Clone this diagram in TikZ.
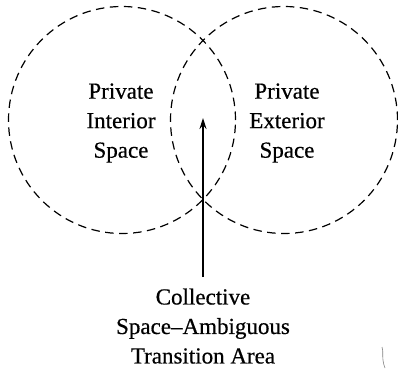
\documentclass[tikz,border=0pt]{standalone}
\usepackage{fontspec}
\setmainfont{Liberation Serif}
\newfontface\semibold{Liberation Serif}[FakeBold=0.5]
\usetikzlibrary{arrows.meta}
\begin{document}
\begin{tikzpicture}[x=1pt,y=1pt,
  zone/.style={circle,draw,dash pattern=on 8.5pt off 5.5pt,line width=1.2pt,minimum size=227pt,inner sep=0pt},
  lbl/.style={align=center,font=\semibold\fontsize{23}{29.5}\selectfont},
  arr/.style={line width=1.4pt,-{Stealth[length=11pt,width=7pt]}}]
\useasboundingbox (0,0) rectangle (398,370);
\node[zone] (L) at (122,250) {};
\node[zone] (R) at (284,250) {};
\node[lbl] (lt) at (121,247) {Private\\Interior\\Space};
\node[lbl] (rt) at (287,247) {Private\\Exterior\\Space};
\node[lbl,anchor=north] (bt) at (203,85) {Collective\\Space–Ambiguous\\Transition Area};
\coordinate (as) at (203,93);
\coordinate (ae) at (203,252);
\draw[arr] (as) -- (ae);
\draw[line width=0.6pt,gray] (382,23) .. controls (384,18) and (381,12) .. (385,2);
\end{tikzpicture}
\end{document}
